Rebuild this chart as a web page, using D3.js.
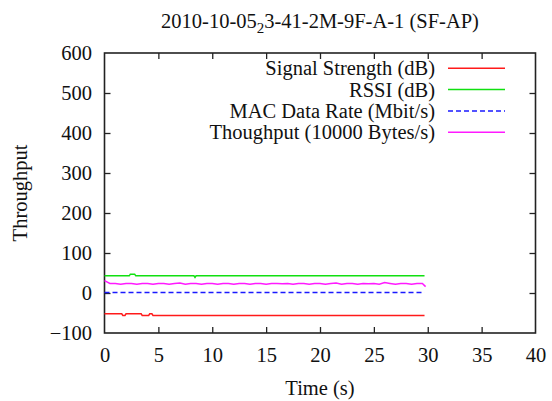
<!DOCTYPE html>
<html>
<head>
<meta charset="utf-8">
<script src="https://cdn.jsdelivr.net/npm/d3@7"></script>
<style>
  body { margin: 0; background: #fff; }
  svg text { font-family: "Liberation Serif", "DejaVu Serif", serif; fill: #111; }
</style>
</head>
<body>
<div id="graph"></div>
<script>
// series
var sigT  = [0, 1.6, 1.7, 1.9, 2.0, 3.4, 3.5, 4.1, 4.2, 4.4, 4.5, 29.7];
var sigV  = [-52, -52, -56, -56, -52, -52, -56, -56, -52, -52, -56, -56];

var rssiT = [0, 2.3, 2.4, 2.8, 2.9, 8.3, 8.4, 8.5, 29.7];
var rssiV = [43, 43, 47, 47, 43, 43, 39, 43, 43];

var macT  = [0, 29.7];
var macV  = [1, 1];

var tputT = [0, 0.5, 1, 1.5, 2, 2.5, 3, 3.5, 4, 4.5, 5, 5.5, 6, 6.5, 7, 7.5, 8, 8.5, 9, 9.5,
             10, 10.5, 11, 11.5, 12, 12.5, 13, 13.5, 14, 14.5, 15, 15.5, 16, 16.5, 17, 17.5,
             18, 18.5, 19, 19.5, 20, 20.5, 21, 21.5, 22, 22.5, 23, 23.5, 24, 24.5, 25, 25.5,
             26, 26.5, 27, 27.5, 28, 28.5, 29, 29.5, 29.8];
var tputV = [31, 24, 24, 22, 24, 24, 22, 24, 24, 22, 24, 24, 22, 24, 25, 22, 24, 24, 22, 24,
             24, 22, 24, 24, 22, 24, 24, 22, 24, 24, 22, 24, 24, 23, 24, 22,
             24, 24, 22, 24, 24, 22, 24, 25, 22, 24, 24, 22, 24, 23, 24, 22,
             26, 24, 22, 24, 24, 22, 24, 24, 16];

var xTicks = [0, 5, 10, 15, 20, 25, 30, 35, 40];
var yTicks = [-100, 0, 100, 200, 300, 400, 500, 600];

var seriesNames = ["Signal Strength (dB)", "RSSI (dB)", "MAC Data Rate (Mbit/s)", "Thoughput (10000 Bytes/s)"];
var seriesColors = ["#ff1a1a", "#10e010", "#1a1aff", "#ff1aff"];

var W = 552, H = 401;
var margin = {top: 53, right: 16.5, bottom: 68, left: 104.5},
    width = W - margin.left - margin.right,
    height = H - margin.top - margin.bottom;

var svg = d3.select("#graph").append("svg")
  .attr("width", W).attr("height", H);
var g = svg.append("g")
  .attr("transform", "translate(" + margin.left + "," + margin.top + ")");

var x = d3.scaleLinear().domain([0, 40]).range([0, width]);
var y = d3.scaleLinear().domain([-100, 600]).range([height, 0]);

var fs = 20.5;

// axes with inward ticks on all four sides
var xAxis = g.append("g").attr("transform", "translate(0," + height + ")")
  .call(d3.axisBottom(x).tickValues(xTicks).tickSize(-6).tickPadding(14.5));
var xTop = g.append("g")
  .call(d3.axisTop(x).tickValues(xTicks.slice(1, -1)).tickSize(-6).tickFormat(""));
var yAxis = g.append("g")
  .call(d3.axisLeft(y).tickValues(yTicks).tickSize(-6).tickPadding(12.5));
var yRight = g.append("g").attr("transform", "translate(" + width + ",0)")
  .call(d3.axisRight(y).tickValues(yTicks.slice(1, -1)).tickSize(-6).tickFormat(""));

[xAxis, xTop, yAxis, yRight].forEach(function(a){
  a.select(".domain").remove();
  a.selectAll("line").attr("stroke", "#222").attr("stroke-width", 1.3);
  a.selectAll("text").style("font-size", fs + "px").style("font-family", "Liberation Serif").attr("fill", "#111");
});
xAxis.selectAll(".tick").filter(function(d){ return d == 0 || d == 40; }).select("line").remove();
yAxis.selectAll(".tick").filter(function(d){ return d == -100 || d == 600; }).select("line").remove();

g.append("rect")
  .attr("width", width).attr("height", height)
  .attr("fill", "none").attr("stroke", "#222").attr("stroke-width", 1.6);

// lines
var line = d3.line().x(function(d){ return x(d[0]); }).y(function(d){ return y(d[1]); });
var series = [[sigT, sigV], [rssiT, rssiV], [macT, macV], [tputT, tputV]];
series.forEach(function(s, i){
  var pts = s[0].map(function(t, j){ return [t, s[1][j]]; });
  g.append("path")
    .datum(pts)
    .attr("d", line)
    .attr("fill", "none")
    .attr("stroke", seriesColors[i])
    .attr("stroke-width", 1.5)
    .attr("stroke-dasharray", i == 2 ? "5,3" : null);
});

// legend
var leg = g.append("g");
seriesNames.forEach(function(name, i){
  var ly = 15.3 + i * 21.3;
  leg.append("text")
    .attr("x", 435 - margin.left).attr("y", ly)
    .attr("dy", "0.35em")
    .attr("text-anchor", "end")
    .style("font-size", fs + "px")
    .text(name);
  leg.append("line")
    .attr("x1", 448 - margin.left).attr("x2", 505 - margin.left)
    .attr("y1", ly).attr("y2", ly)
    .attr("stroke", seriesColors[i])
    .attr("stroke-width", 1.5)
    .attr("stroke-dasharray", i == 2 ? "5,3" : null);
});

// title with subscript
var title = svg.append("text")
  .attr("x", margin.left + width / 2).attr("y", 27.5)
  .attr("text-anchor", "middle")
  .style("font-size", fs + "px");
title.append("tspan").text("2010-10-05");
title.append("tspan").attr("dy", 5).style("font-size", "15px").text("2");
title.append("tspan").attr("dy", -5).text("3-41-2M-9F-A-1 (SF-AP)");

svg.append("text")
  .attr("x", margin.left + width / 2).attr("y", 395)
  .attr("text-anchor", "middle")
  .style("font-size", fs + "px")
  .text("Time (s)");

svg.append("text")
  .attr("transform", "translate(27," + (margin.top + height / 2) + ") rotate(-90)")
  .attr("text-anchor", "middle")
  .style("font-size", fs + "px")
  .text("Throughput");
</script>
</body>
</html>
